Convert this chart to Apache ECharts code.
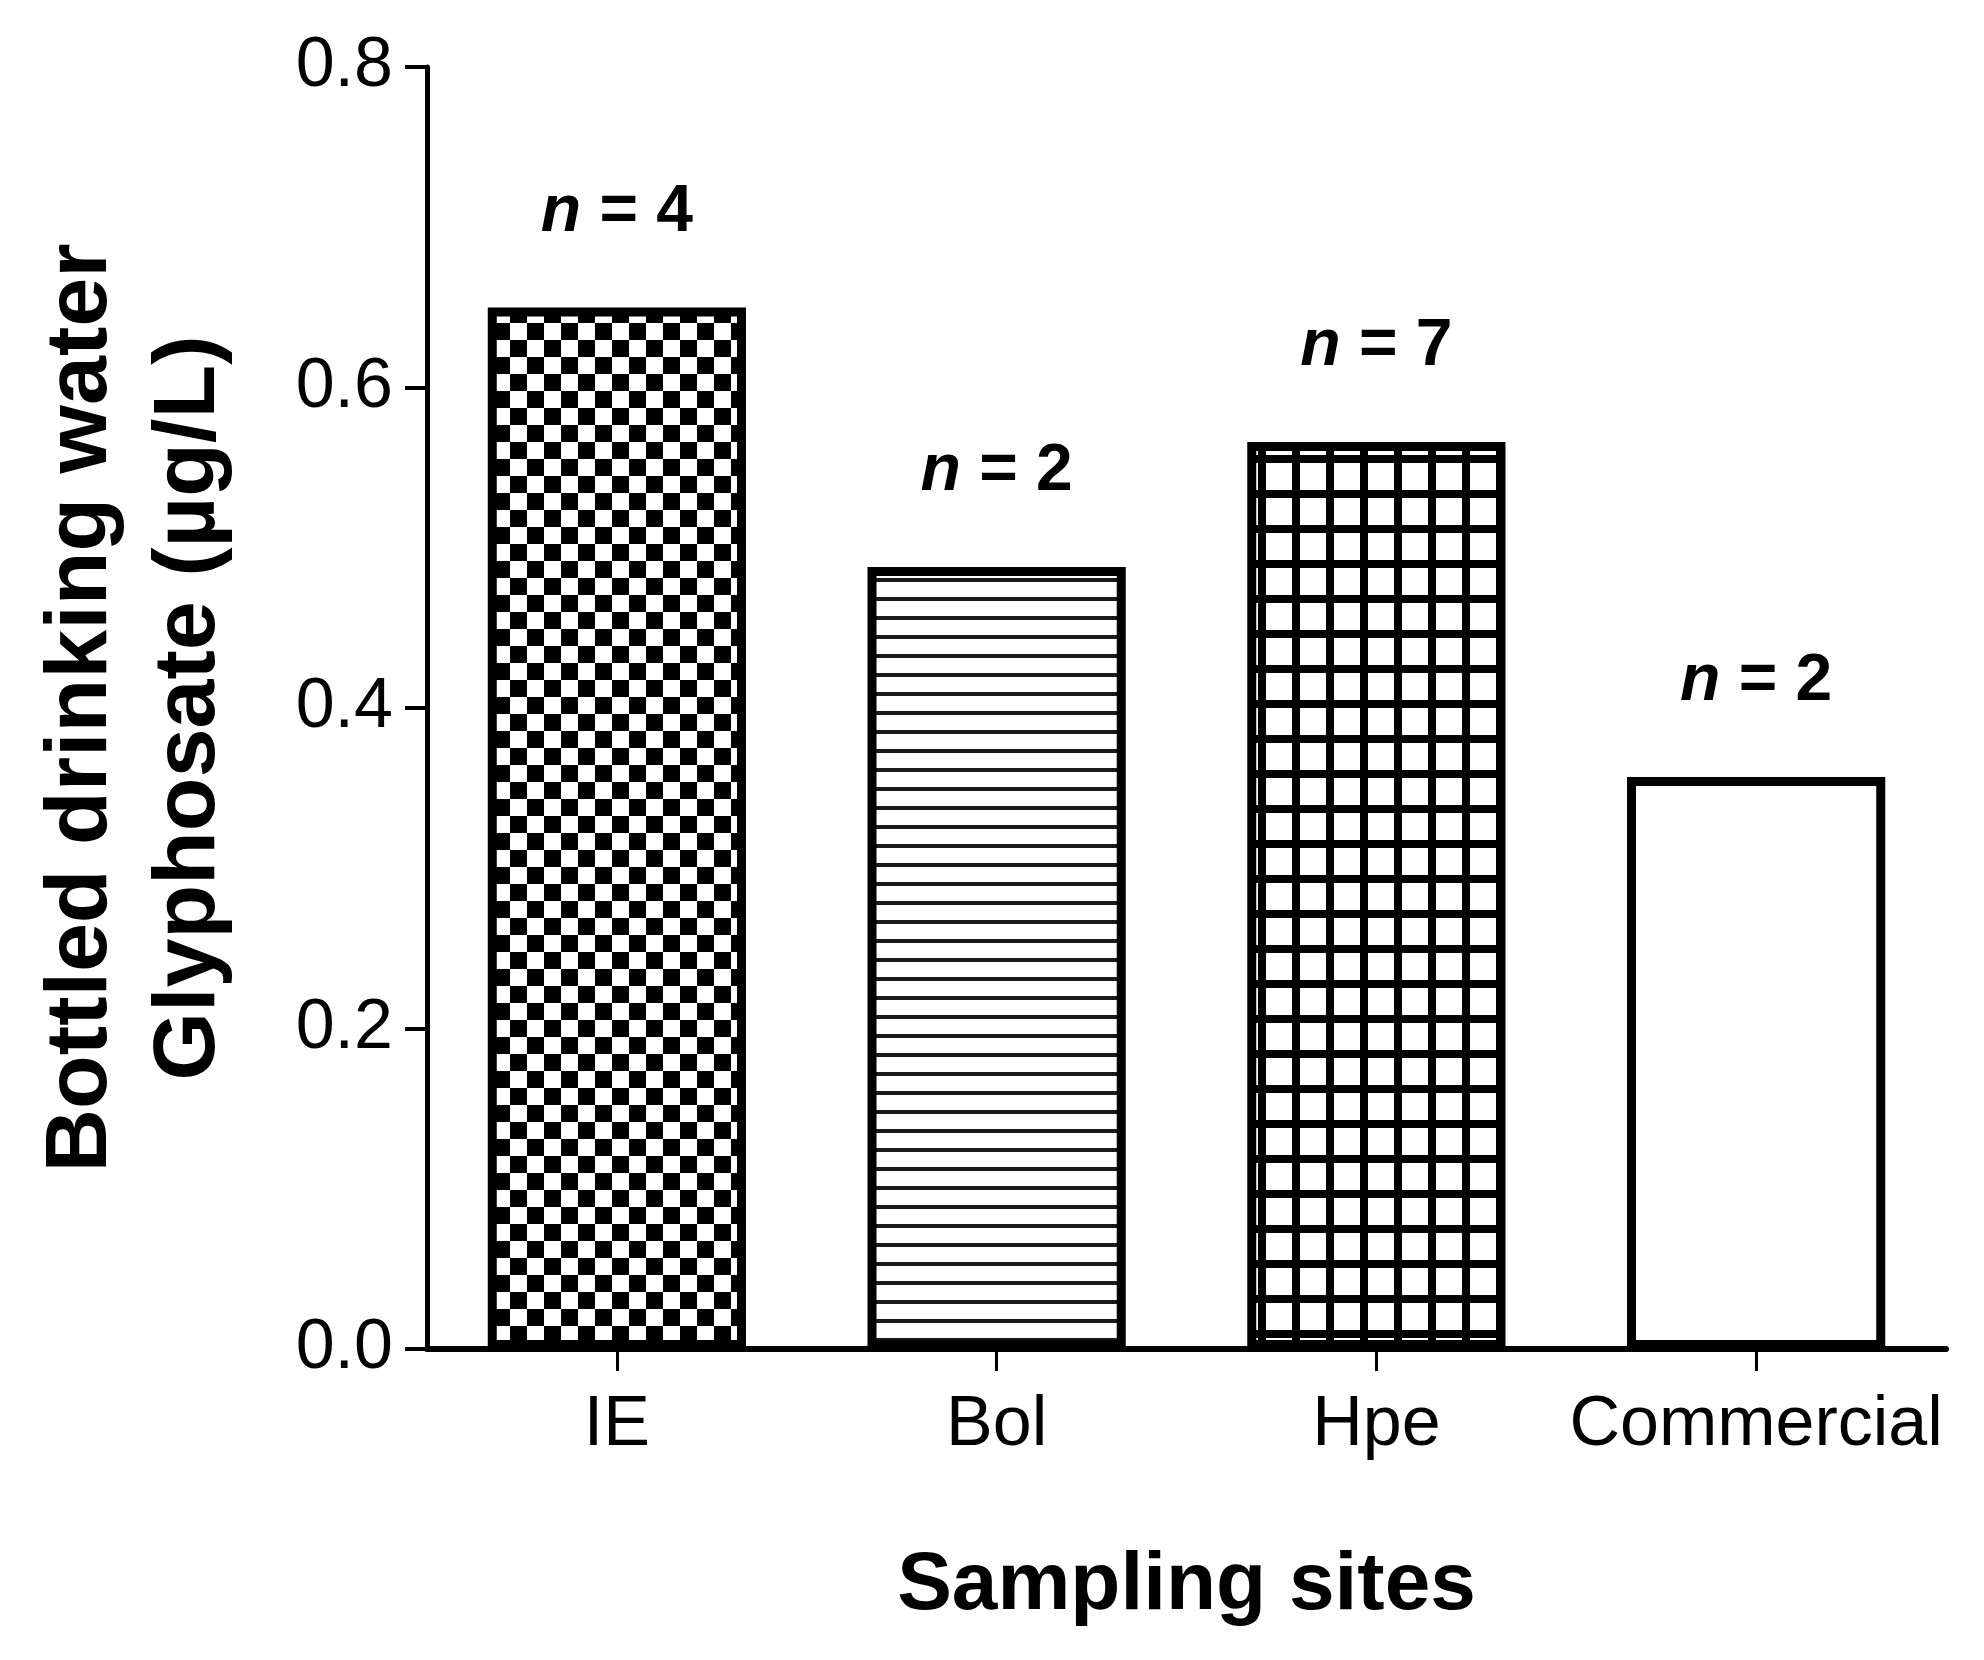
<!DOCTYPE html>
<html>
<head>
<meta charset="utf-8">
<script src="https://cdn.jsdelivr.net/npm/echarts@6/dist/echarts.min.js"></script>
<style>
html,body{margin:0;padding:0;background:#fff;}
#chart{width:1984px;height:1660px;}
</style>
</head>
<body>
<div id="chart"></div>
<script>
const categories = ['IE', 'Bol', 'Hpe', 'Commercial'];
const values = [0.650, 0.488, 0.566, 0.357];
const sampleSizes = [4, 2, 7, 2];
const yMin = 0, yMax = 0.8, yInterval = 0.2;
const xTitle = 'Sampling sites';
const yTitle = 'Bottled drinking water\nGlyphosate (µg/L)';

function makeCanvas(w, h, draw) {
  const c = document.createElement('canvas');
  c.width = w; c.height = h;
  const ctx = c.getContext('2d');
  ctx.fillStyle = '#fff';
  ctx.fillRect(0, 0, w, h);
  draw(ctx);
  return c;
}
const checker = makeCanvas(34, 34, ctx => {
  ctx.fillStyle = '#000';
  ctx.fillRect(0, 0, 17, 17);
  ctx.fillRect(17, 17, 17, 17);
});
const hlines = makeCanvas(8, 19, ctx => {
  ctx.fillStyle = '#1a1a1a';
  ctx.fillRect(0, 8, 8, 4);
});
const grid = makeCanvas(34, 35, ctx => {
  ctx.fillStyle = '#000';
  ctx.fillRect(0, 0, 8, 35);
  ctx.fillRect(0, 0, 34, 8);
});
const fills = [
  { image: checker, repeat: 'repeat' },
  { image: hlines, repeat: 'repeat' },
  { image: grid, repeat: 'repeat' },
  '#ffffff'
];

const FONT = "'Liberation Sans', Arial, sans-serif";
const chart = echarts.init(document.getElementById('chart'));
chart.setOption({
  animation: false,
  backgroundColor: '#fff',
  grid: { left: 427, right: 38, top: 67, bottom: 311, containLabel: false },
  xAxis: {
    type: 'category',
    data: categories,
    name: xTitle,
    nameLocation: 'middle',
    nameGap: 196,
    nameTextStyle: { fontFamily: FONT, fontSize: 82, fontWeight: 'bold', color: '#000' },
    axisLine: { lineStyle: { color: '#000', width: 6 } },
    axisTick: { show: true, alignWithLabel: true, length: 22, lineStyle: { color: '#000', width: 3 } },
    axisLabel: { fontFamily: FONT, fontSize: 70, color: '#000', margin: 42, interval: 0 },
    splitLine: { show: false }
  },
  yAxis: {
    type: 'value',
    min: yMin, max: yMax, interval: yInterval,
    name: yTitle,
    nameLocation: 'middle',
    nameGap: 183,
    nameTextStyle: { fontFamily: FONT, fontSize: 88, fontWeight: 'bold', color: '#000', lineHeight: 108 },
    axisLine: { show: true, lineStyle: { color: '#000', width: 5 } },
    axisTick: { show: true, length: 22, lineStyle: { color: '#000', width: 4 } },
    axisLabel: { fontFamily: FONT, fontSize: 70, color: '#000', margin: 34, formatter: v => v.toFixed(1) },
    splitLine: { show: false }
  },
  series: [{
    type: 'bar',
    barWidth: '68%',
    data: values.map((v, i) => ({
      value: v,
      itemStyle: { color: fills[i], borderColor: '#000', borderWidth: 9 }
    })),
    label: {
      show: true,
      position: 'top',
      distance: 62,
      formatter: p => '{i|n}{b| = ' + sampleSizes[p.dataIndex] + '}',
      rich: {
        i: { fontFamily: FONT, fontSize: 66, fontWeight: 'bold', fontStyle: 'italic', color: '#000' },
        b: { fontFamily: FONT, fontSize: 66, fontWeight: 'bold', color: '#000' }
      }
    }
  }]
});
</script>
</body>
</html>
